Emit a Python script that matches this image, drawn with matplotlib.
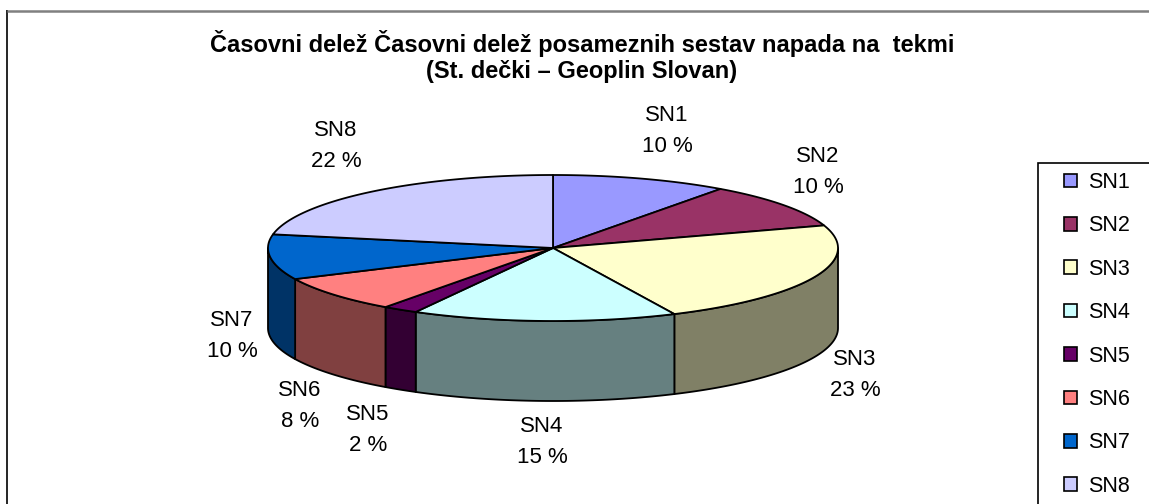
import numpy as np
import matplotlib
matplotlib.use("Agg")
import matplotlib.pyplot as plt
from matplotlib.patches import Polygon, Rectangle, Patch

# ---- data ----
categories = ["SN1", "SN2", "SN3", "SN4", "SN5", "SN6", "SN7", "SN8"]
values = [10, 10, 23, 15, 2, 8, 10, 22]
title_lines = ["Časovni delež Časovni delež posameznih sestav napada na  tekmi",
               "(St. dečki – Geoplin Slovan)"]

# ---- styles ----
top_colors = ["#9999FF", "#993366", "#FFFFCC", "#CCFFFF", "#660066", "#FF8080", "#0066CC", "#CCCCFF"]
side_colors = ["#4C4C80", "#4C1933", "#808066", "#668080", "#330033", "#804040", "#003366", "#666680"]

# label anchor positions (pixel layout, centre of two-line block)
label_xy = [(667, 131), (818, 172), (855, 375), (542, 442), (368, 430), (300, 406), (232, 336), (336, 146)]

plt.rcParams['font.family'] = ['Liberation Sans', 'DejaVu Sans']

W, H = 1149, 504
fig = plt.figure(figsize=(W / 100, H / 100), dpi=100)
ax = fig.add_axes([0, 0, 1, 1])
ax.set_xlim(0, W)
ax.set_ylim(H, 0)
ax.axis('off')

# outer chart border
ax.plot([7, 7], [10, H + 5], color='black', lw=1.2, solid_capstyle='butt')
ax.plot([7, W + 5], [10.5, 10.5], color='#808080', lw=1.8, solid_capstyle='butt')

# pie geometry
cx, cy, a, b, depth = 553, 248, 285, 73, 80
lw = 1.3

def ell(t, dy=0.0):
    return cx + a * np.cos(t), cy - b * np.sin(t) + dy

vals = np.array(values, dtype=float)
frac = vals / vals.sum()
cum = np.concatenate([[0], np.cumsum(frac)])
starts = np.deg2rad(90 - 360 * cum[:-1])
ends = np.deg2rad(90 - 360 * cum[1:])

# side walls (front half: angle in [-pi, 0])
for i in range(len(values)):
    hi = min(starts[i], 0.0)
    lo = max(ends[i], -np.pi)
    if hi <= lo:
        continue
    t = np.linspace(hi, lo, 80)
    xt, yt = ell(t)
    xb, yb = ell(t[::-1], depth)
    pts = np.column_stack([np.concatenate([xt, xb]), np.concatenate([yt, yb])])
    ax.add_patch(Polygon(pts, closed=True, facecolor=side_colors[i], edgecolor='black',
                         lw=lw, joinstyle='round', zorder=2))

# top face
for i in range(len(values)):
    t = np.linspace(starts[i], ends[i], 120)
    xt, yt = ell(t)
    pts = np.column_stack([np.concatenate([[cx], xt]), np.concatenate([[cy], yt])])
    ax.add_patch(Polygon(pts, closed=True, facecolor=top_colors[i], edgecolor='black',
                         lw=lw, joinstyle='round', zorder=3))

# data labels
for i, (lx, ly) in enumerate(label_xy):
    ax.text(lx, ly, f"{categories[i]}\n{values[i]} %", ha='center', va='center',
            fontsize=16, linespacing=1.62, zorder=5)

# title
for line, yb in zip(title_lines, [52, 78]):
    ax.text(582, yb, line, ha='center', va='baseline', fontsize=17, fontweight='bold')

# legend box (extends beyond figure edge)
ax.add_patch(Rectangle((1038, 163), 300, 400, facecolor='white', edgecolor='black', lw=1.2, zorder=1))
handles = [Patch(facecolor=top_colors[i], edgecolor='black', lw=1.2, label=categories[i])
           for i in range(len(categories))]
leg = ax.legend(handles=handles, loc='upper left', bbox_to_anchor=(1064 / W, 1 - 172 / H),
                bbox_transform=fig.transFigure, frameon=False, fontsize=15.5,
                handlelength=0.6, handleheight=0.6, handletextpad=0.5,
                labelspacing=1.04, borderaxespad=0, borderpad=0)

fig.savefig("out.png", dpi=100)
